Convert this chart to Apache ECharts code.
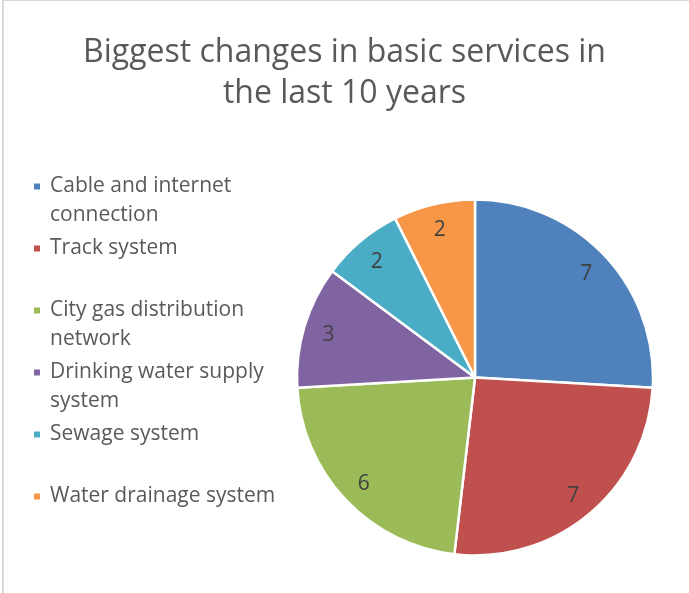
<!DOCTYPE html>
<html>
<head>
<meta charset="utf-8">
<script src="https://cdn.jsdelivr.net/npm/echarts@6/dist/echarts.min.js"></script>
<style>
  html, body { margin: 0; padding: 0; background: #fff; }
  #frame { position: absolute; left: 2px; top: 0; width: 720px; height: 620px;
           border-left: 2px solid #d9d9d9; border-top: 1px solid #d9d9d9; box-sizing: border-box; }
  #chart { position: absolute; left: 0; top: 0; width: 689px; height: 593px; }
</style>
</head>
<body>
<div id="frame"></div>
<div id="chart"></div>
<script>
// Services and how many respondents named each one
const categories = [
  'Cable and internet connection',
  'Track system',
  'City gas distribution network',
  'Drinking water supply system',
  'Sewage system',
  'Water drainage system'
];
const counts = [7, 7, 6, 3, 2, 2];
const colors = ['#4F81BD', '#C0504D', '#9BBB59', '#8064A2', '#4BACC6', '#F79646'];

// Legend text, broken onto two lines where it runs long
const legendText = {
  'Cable and internet connection': 'Cable and internet\nconnection',
  'Track system': 'Track system',
  'City gas distribution network': 'City gas distribution\nnetwork',
  'Drinking water supply system': 'Drinking water supply\nsystem',
  'Sewage system': 'Sewage system',
  'Water drainage system': 'Water drainage system'
};

const FONT = 'Open Sans';
const LINE = 29;

const pieData = categories.map((name, i) => ({
  name: name,
  value: counts[i],
  itemStyle: { color: colors[i] }
}));

// Each legend entry keeps the marker beside its first line and takes the same height
const legendData = categories.map(name => {
  const twoLines = legendText[name].indexOf('\n') >= 0;
  return {
    name: name,
    textStyle: { padding: twoLines ? [LINE, 0, 0, 4] : [LINE, 0, LINE, 4] }
  };
});

const chart = echarts.init(document.getElementById('chart'), null, { renderer: 'canvas' });
chart.setOption({
  animation: false,
  backgroundColor: 'transparent',
  title: {
    text: 'Biggest changes in basic services in\nthe last 10 years',
    left: 'center',
    top: 27,
    textStyle: {
      fontFamily: FONT,
      fontSize: 32,
      fontWeight: 'normal',
      color: '#595959',
      lineHeight: 41
    }
  },
  legend: {
    orient: 'vertical',
    left: 32,
    top: 143,
    padding: 0,
    itemGap: 62 - 3 * LINE,
    itemWidth: 8,
    itemHeight: 8,
    icon: 'rect',
    selectedMode: false,
    data: legendData,
    formatter: name => legendText[name].split('\n').map(s => '{t|' + s + '}').join('\n'),
    textStyle: {
      backgroundColor: 'rgba(0,0,0,0)',
      rich: {
        t: {
          fontFamily: FONT,
          fontSize: 21,
          color: '#595959',
          lineHeight: LINE
        }
      }
    }
  },
  series: [
    {
      type: 'pie',
      center: [475, 377.5],
      radius: [0, 178],
      startAngle: 90,
      clockwise: true,
      silent: true,
      label: { show: false },
      labelLine: { show: false },
      itemStyle: { borderColor: '#ffffff', borderWidth: 2.5 },
      data: pieData
    },
    {
      // value labels sit in a ring near the rim of each slice
      type: 'pie',
      center: [475, 379],
      radius: [122, 178],
      startAngle: 90,
      clockwise: true,
      silent: true,
      itemStyle: { color: 'rgba(0,0,0,0)', borderWidth: 0 },
      label: {
        show: true,
        position: 'inside',
        formatter: '{c}',
        fontFamily: FONT,
        fontSize: 21,
        color: '#404040'
      },
      labelLine: { show: false },
      data: categories.map((name, i) => ({ name: name, value: counts[i] }))
    }
  ]
});
</script>
</body>
</html>
